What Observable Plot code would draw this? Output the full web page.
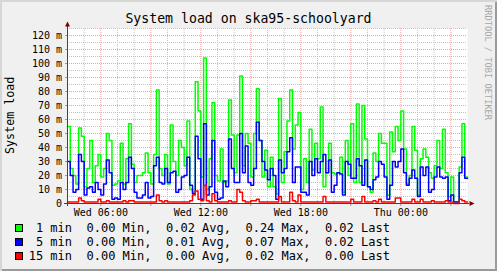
<!DOCTYPE html>
<html>
<head>
<meta charset="utf-8">
<script src="https://cdn.jsdelivr.net/npm/d3@7"></script>
<script src="https://cdn.jsdelivr.net/npm/@observablehq/plot@0.6"></script>
<style>
  html, body { margin: 0; padding: 0; background: #f0f0f0; }
  #chart { position: relative; width: 497px; height: 271px; background: #f0f0f0;
    box-shadow: inset 2px 2px 0 #d6d6d6, inset -2px -2px 0 #9a9a9a; overflow: hidden;
    font-family: "DejaVu Sans Mono", monospace; color: #000; }
  .abs { position: absolute; white-space: pre; }
  #title { left: 0; width: 497px; top: 12.1px; text-align: center; font-size: 13.2px; line-height: 13.2px; }
  #ylabel { left: 5.1px; top: 153.7px; font-size: 11.7px; line-height: 11.7px; transform-origin: 0 0; transform: rotate(-90deg); }
  #wm { left: 492.4px; top: 4.5px; font-size: 8.7px; line-height: 8.7px; color: #a8a8a8; transform-origin: 0 0; transform: rotate(90deg); }
  #plot { position: absolute; left: 0; top: 0; }
  .sw { position: absolute; width: 6px; height: 6px; border: 1px solid #000; }
  .lg { position: absolute; font-size: 12px; line-height: 12px; white-space: pre; }
</style>
</head>
<body>
<div id="chart">
  <div id="plot"></div>
  <div id="title" class="abs">System load on ska95-schoolyard</div>
  <div id="ylabel" class="abs">System load</div>
  <div id="wm" class="abs">RRDTOOL / TOBI OETIKER</div>
  <div id="legend"></div>
</div>
<script>
// ---- data (milli-load, one value per 10-minute step starting Wed 04:00) ----
const load1 = [
  55, 25, 20, 14, 54, 48, 12, 25, 45, 15,
  27, 35, 19, 25, 50, 45, 13, 14, 16, 43,
  14, 32, 57, 28, 15, 20, 20, 22, 36, 22,
  14, 35, 81, 25, 20, 35, 14, 56, 30, 20,
  45, 40, 27, 59, 10, 8, 87, 66, 19, 104,
  10, 32, 72, 20, 16, 39, 15, 16, 74, 49,
  22, 49, 91, 27, 50, 43, 19, 50, 82, 45,
  19, 38, 12, 33, 12, 7, 75, 15, 37, 59,
  81, 39, 56, 65, 10, 32, 15, 53, 24, 43,
  32, 69, 12, 22, 43, 22, 21, 22, 33, 8,
  45, 20, 57, 15, 71, 15, 70, 46, 12, 8,
  36, 30, 50, 43, 43, 6, 51, 37, 55, 45,
  66, 39, 14, 20, 55, 38, 6, 32, 39, 33,
  22, 18, 27, 45, 25, 53, 22, 5, 19, 1,
  1, 26, 57, 19
];
const load5 = [
  30, 20, 8, 10, 35, 30, 6, 11, 12, 8,
  15, 10, 6, 14, 31, 22, 3, 4, 3, 15,
  10, 15, 33, 25, 8, 4, 4, 6, 15, 4,
  5, 27, 33, 15, 14, 25, 15, 22, 23, 8,
  10, 19, 20, 33, 13, 7, 48, 32, 3, 57,
  6, 12, 45, 8, 3, 4, 16, 12, 46, 25,
  15, 15, 50, 22, 41, 15, 13, 25, 58, 45,
  30, 24, 17, 25, 20, 3, 31, 22, 25, 37,
  47, 15, 26, 26, 8, 8, 6, 30, 20, 32,
  22, 30, 35, 22, 31, 8, 13, 22, 21, 6,
  30, 28, 18, 18, 32, 27, 13, 31, 12, 10,
  17, 19, 30, 28, 19, 3, 13, 30, 26, 30,
  39, 22, 13, 18, 24, 18, 5, 26, 20, 26,
  8, 10, 19, 26, 19, 18, 19, 2, 6, 1,
  1, 22, 33, 18
];
const load15 = [
  1, 1, 1, 1, 4, 2, 1, 1, 1, 1,
  1, 3, 1, 1, 2, 1, 1, 1, 1, 1,
  2, 1, 2, 2, 1, 1, 1, 1, 1, 1,
  1, 1, 6, 2, 1, 2, 1, 1, 1, 1,
  1, 1, 1, 1, 2, 6, 9, 3, 2, 13,
  2, 1, 7, 2, 1, 1, 1, 1, 2, 1,
  1, 10, 8, 2, 1, 1, 2, 2, 3, 1,
  1, 1, 1, 1, 1, 1, 5, 1, 1, 1,
  8, 2, 1, 6, 1, 1, 1, 1, 1, 1,
  1, 1, 5, 1, 1, 1, 1, 1, 1, 1,
  1, 1, 3, 1, 1, 1, 5, 1, 1, 1,
  2, 1, 3, 1, 1, 1, 1, 1, 4, 4,
  1, 1, 1, 1, 3, 1, 1, 3, 1, 1,
  1, 2, 1, 1, 1, 1, 2, 1, 1, 0,
  0, 3, 2, 1
];
const seriesNames = [" 1 min", " 5 min", "15 min"];
const seriesColors = ["#00ff00", "#0000ff", "#ff0000"];
const statMin = ["0.00", "0.00", "0.00"];
const statAvg = ["0.02", "0.01", "0.00"];
const statMax = ["0.24", "0.07", "0.02"];
const statLast = ["0.02", "0.02", "0.00"];
const xTickTimes = [Date.UTC(2010,0,6,6), Date.UTC(2010,0,6,12), Date.UTC(2010,0,6,18), Date.UTC(2010,0,7,0)];
const xTickLabels = ["Wed 06:00", "Wed 12:00", "Wed 18:00", "Thu 00:00"];
const yTicks = [0, 10, 20, 30, 40, 50, 60, 70, 80, 90, 100, 110, 120];
const yTickLabels = ["0", "10 m", "20 m", "30 m", "40 m", "50 m", "60 m", "70 m", "80 m", "90 m", "100 m", "110 m", "120 m"];

// ---- build ----
const start = new Date(Date.UTC(2010,0,6,4,0));
const end = new Date(Date.UTC(2010,0,7,4,0));
const stepMs = 10 * 60 * 1000;
function rowsOf(vals) {
  const r = vals.map((v, i) => ({t: new Date(+start + i * stepMs), v}));
  r.push({t: new Date(+start + vals.length * stepMs), v: vals[vals.length - 1]});
  return r;
}
const allSeries = [load1, load5, load15].map(rowsOf);

const hours = d3.utcHour.range(new Date(+start + 3600e3), end);
const majorHours = hours.filter(d => d.getUTCHours() % 3 === 0);
const minorHours = hours.filter(d => d.getUTCHours() % 3 !== 0);
const minorY = d3.range(5, 126, 10);
const majorY = d3.range(10, 121, 10);
const xLabelMap = new Map(xTickTimes.map((t, i) => [t, xTickLabels[i]]));
const yLabelMap = new Map(yTicks.map((t, i) => [t, yTickLabels[i]]));

const arrowUp = {draw(ctx) { ctx.moveTo(0, -5); ctx.lineTo(2.5, 0); ctx.lineTo(-2.5, 0); ctx.closePath(); }};
const arrowRight = {draw(ctx) { ctx.moveTo(5, 0); ctx.lineTo(0, -2.5); ctx.lineTo(0, 2.5); ctx.closePath(); }};

const gridMinor = {stroke: "#c4c4c4", strokeDasharray: "1,1"};
const gridMajor = {stroke: "#eba3a3", strokeDasharray: "1,1"};

const chart = Plot.plot({
  width: 497,
  height: 222,
  marginLeft: 67,
  marginRight: 30,
  marginTop: 28,
  marginBottom: 19,
  x: {type: "utc", domain: [start, end]},
  y: {domain: [0, 125]},
  style: {fontFamily: "DejaVu Sans Mono", fontSize: "10px", background: "transparent", color: "#000", overflow: "visible"},
  marks: [
    Plot.frame({fill: "#ffffff", stroke: null}),
    Plot.ruleY(minorY, gridMinor),
    Plot.ruleY(majorY, gridMajor),
    Plot.ruleX(minorHours, gridMinor),
    Plot.ruleX(majorHours, gridMajor),
    Plot.ruleX(majorHours, {y1: 0, y2: 0, insetBottom: -3, stroke: "#9a9a9a"}),
    Plot.ruleY(majorY, {x1: start, x2: start, insetLeft: -2, stroke: "#9a9a9a"}),
    Plot.line(allSeries[0], {x: "t", y: "v", curve: "step-after", stroke: seriesColors[0], strokeWidth: 1.5}),
    Plot.line(allSeries[1], {x: "t", y: "v", curve: "step-after", stroke: seriesColors[1], strokeWidth: 1.5}),
    Plot.line(allSeries[2], {x: "t", y: "v", curve: "step-after", stroke: seriesColors[2], strokeWidth: 1.5}),
    Plot.ruleX([start], {stroke: "#2c4d43", insetTop: -2, insetBottom: -3}),
    Plot.ruleY([0], {stroke: "#2c4d43", insetLeft: -3, insetRight: -2}),
    Plot.dot([{t: start, v: 125}], {x: "t", y: "v", symbol: arrowUp, r: 3, fill: "#7f0000", stroke: "none", dy: -2}),
    Plot.dot([{t: end, v: 0}], {x: "t", y: "v", symbol: arrowRight, r: 3, fill: "#7f0000", stroke: "none", dx: 2}),
    Plot.axisX({ticks: xTickTimes.map(t => new Date(t)), tickFormat: d => xLabelMap.get(+d), tickSize: 0, tickPadding: 5.5, label: null, fill: "#000"}),
    Plot.axisY({ticks: yTicks, tickFormat: d => yLabelMap.get(d), tickSize: 0, tickPadding: 5.5, label: null, fill: "#000"})
  ]
});
document.getElementById("plot").appendChild(chart);

// ---- legend ----
const legend = document.getElementById("legend");
seriesNames.forEach((name, i) => {
  const sw = document.createElement("div");
  sw.className = "sw";
  sw.style.left = "15px";
  sw.style.top = (224 + 14 * i) + "px";
  sw.style.background = seriesColors[i];
  legend.appendChild(sw);
  const tx = document.createElement("div");
  tx.className = "lg";
  tx.style.left = "28.7px";
  tx.style.top = (221.85 + 14 * i) + "px";
  tx.textContent = `${name}  ${statMin[i]} Min,  ${statAvg[i]} Avg,  ${statMax[i]} Max,  ${statLast[i]} Last`;
  legend.appendChild(tx);
});
</script>
</body>
</html>
